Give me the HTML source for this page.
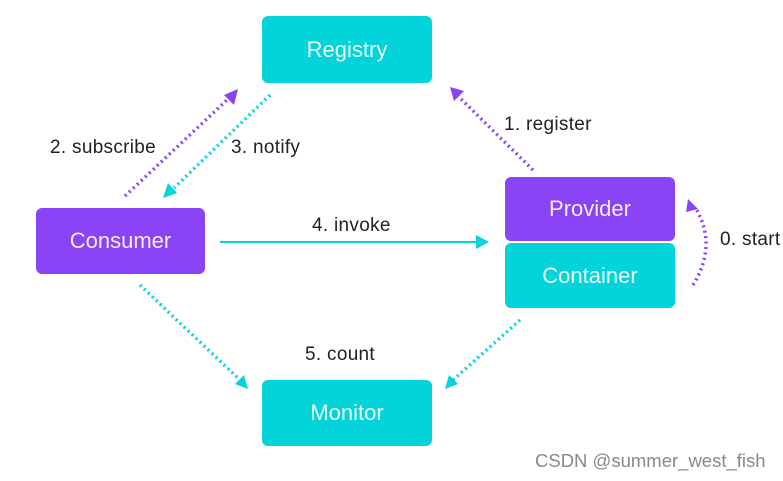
<!DOCTYPE html>
<html><head><meta charset="utf-8"><style>
body{margin:0;background:#fff;width:783px;height:481px;overflow:hidden;position:relative;font-family:"Liberation Sans",sans-serif}
.b{position:absolute;border-radius:6px;color:#e9fdff;font-size:22px;display:flex;align-items:center;justify-content:center}
.c{background:#02d4d9}.p{background:#8a44f6;color:#f3eaff}
.t{position:absolute;font-size:19px;color:#222;letter-spacing:0.3px}
</style></head><body>
<div class="b c" style="left:262px;top:16px;width:170px;height:67px">Registry</div>
<div class="b p" style="left:36px;top:208px;width:169px;height:66px">Consumer</div>
<div class="b p" style="left:505px;top:177px;width:170px;height:64px">Provider</div>
<div class="b c" style="left:505px;top:243px;width:170px;height:65px">Container</div>
<div class="b c" style="left:262px;top:380px;width:170px;height:66px">Monitor</div>
<svg width="783" height="481" style="position:absolute;left:0;top:0">
<g stroke-width="3.5" fill="none" stroke-dasharray="2 3.5">
<line x1="125" y1="196" x2="228" y2="99" stroke="#8a44f6"/>
<line x1="270" y1="95" x2="174" y2="188" stroke="#02d4d9"/>
<line x1="533" y1="170" x2="458" y2="96" stroke="#8a44f6"/>
<line x1="140" y1="285" x2="240" y2="380" stroke="#02d4d9"/>
<line x1="520" y1="320" x2="453" y2="380" stroke="#02d4d9"/>
<path d="M693 285 Q718 245 695 207" stroke="#8a44f6"/>
</g>
<line x1="220" y1="242" x2="478" y2="242" stroke="#02d4d9" stroke-width="2"/>
<polygon points="489,242 476,235 476,249" fill="#02d4d9"/>
<polygon points="238,89 224,95 234,105" fill="#8a44f6"/>
<polygon points="163,198 177,193 168,183" fill="#02d4d9"/>
<polygon points="450,87 454,101 464,91" fill="#8a44f6"/>
<polygon points="248,389 235,384 244,375" fill="#02d4d9"/>
<polygon points="445,389 449,375 458,384" fill="#02d4d9"/>
<polygon points="688,199 686,212 698,209" fill="#8a44f6"/>
</svg>
<div class="t" style="left:50px;top:137px">2. subscribe</div>
<div class="t" style="left:231px;top:137px">3. notify</div>
<div class="t" style="left:504px;top:114px">1. register</div>
<div class="t" style="left:312px;top:215px">4. invoke</div>
<div class="t" style="left:720px;top:229px">0. start</div>
<div class="t" style="left:305px;top:344px">5. count</div>
<div class="t" style="left:535px;top:450px;color:#888;font-size:18.5px;letter-spacing:0">CSDN @summer_west_fish</div>
</body></html>
